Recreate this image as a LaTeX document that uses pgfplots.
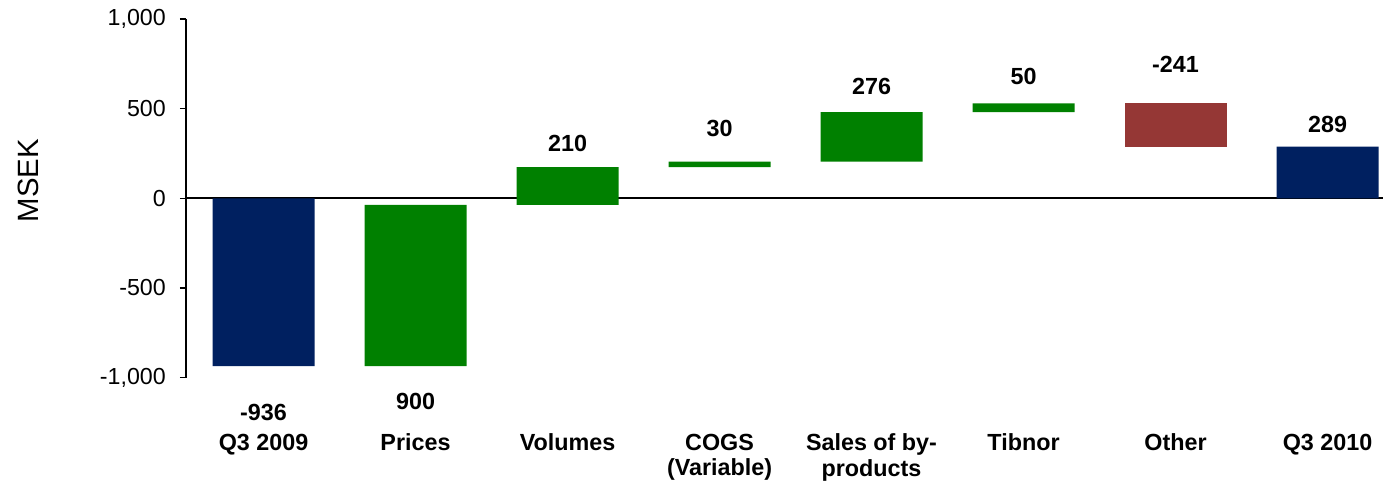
\documentclass[border=0pt]{standalone}
\usepackage{pgfplots}
\pgfplotsset{compat=1.18}
\usepackage{pgfplotstable}
\usepackage{fontspec}
\setmainfont{Liberation Sans}
\usetikzlibrary{calc}
\definecolor{navy}{RGB}{0,32,96}
\definecolor{wgreen}{RGB}{0,128,0}
\definecolor{wred}{RGB}{149,55,53}

\pgfplotstableread{
x base navy green red
0 0 -936 0 0
1 -936 0 900 0
2 -36 0 210 0
3 174 0 30 0
4 204 0 276 0
5 480 0 50 0
6 530 0 0 -241
7 0 289 0 0
}\bars

\pgfplotstableread{
x y label
0 -1196 -936
1 -1130 900
2 307 210
3 390 30
4 624 276
5 680 50
6 749 -241
7 411 289
}\labels

\begin{document}
\begin{tikzpicture}
\pgfplotsset{common/.style={width=897.75pt, height=269pt, scale only axis,
  xmin=-0.51, xmax=7.365, ymin=-1000, ymax=1000}}
\begin{axis}[common, name=ax, ybar stacked, stack negative=on previous, bar width=76.5pt,
  axis y line*=left, axis x line*=bottom, x axis line style={draw=none},
  xtick={0,...,7},
  xticklabels={Q3 2009, Prices, Volumes, {COGS\\(Variable)}, {Sales of by-\\products}, Tibnor, Other, Q3 2010},
  xtick style={draw=none},
  xticklabel style={font=\fontsize{17.5}{19.3}\selectfont\bfseries, align=center, anchor=north, inner sep=0pt, yshift=-37.5pt},
  ytick={-1000,-500,0,500,1000},
  yticklabels={{-1,000},{-500},{0},{500},{1,000}},
  yticklabel style={font=\fontsize{17.4}{20}\selectfont, inner sep=0pt, xshift=-10.5pt},
  tick align=outside, major tick length=4.5pt,
  ytick style={black, line width=0.9pt},
  y axis line style={line width=0.9pt},
  ylabel={MSEK},
  ylabel style={font=\fontsize{22}{26}\selectfont, at={(axis description cs:-0.132,0.549)}, anchor=center},
]
\addplot[draw=none, fill=none] table[x=x, y=base] {\bars};
\addplot[draw=none, fill=navy] table[x=x, y=navy] {\bars};
\addplot[draw=none, fill=wgreen] table[x=x, y=green] {\bars};
\addplot[draw=none, fill=wred] table[x=x, y=red] {\bars};
\draw[black, line width=1.3pt] (axis cs:-0.51,0) -- (axis cs:7.365,0);
\end{axis}
\begin{axis}[common, hide axis, clip=false]
\addplot[only marks, mark=none, nodes near coords, point meta=explicit symbolic,
  nodes near coords align=center,
  every node near coord/.append style={font=\fontsize{17.5}{20}\selectfont\bfseries, anchor=center, inner sep=0pt}]
  table[x=x, y=y, meta=label] {\labels};
\end{axis}
\pgfresetboundingbox
\path[use as bounding box] ($(ax.south west)+(-139.5pt,-79.7pt)$) rectangle ($(ax.north east)+(0pt,14.25pt)$);
\end{tikzpicture}
\end{document}
